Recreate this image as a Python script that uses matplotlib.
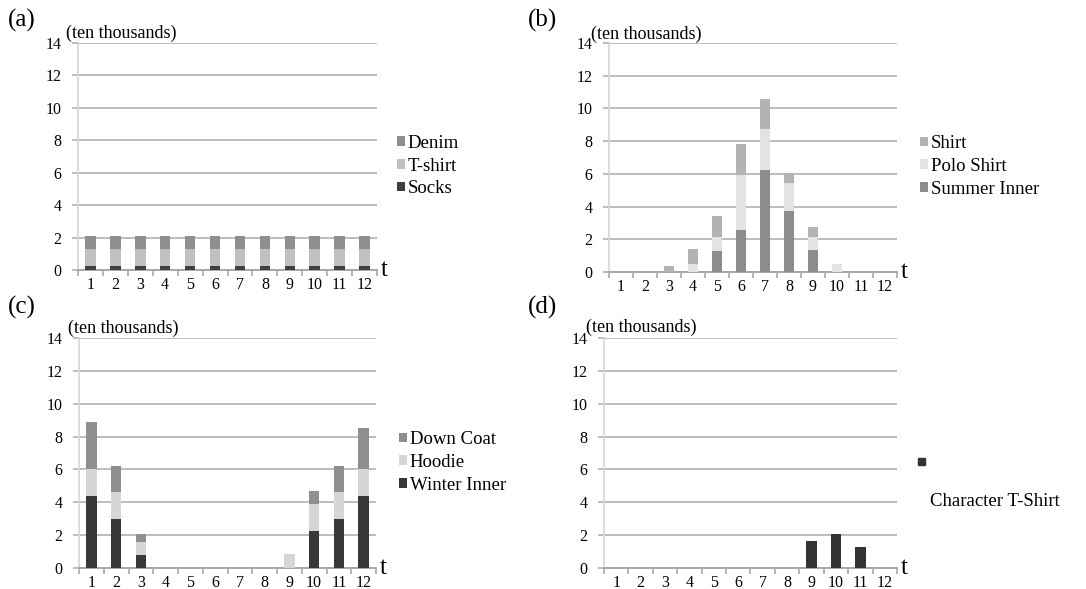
import matplotlib.pyplot as plt
from matplotlib.patches import Patch
import numpy as np

plt.rcParams['font.family'] = ['Liberation Serif', 'DejaVu Serif']

# months
t = np.arange(1, 13)
t_labels = [str(i) for i in t]

# (a) all-season items
socks = [0.25] * 12
tshirt = [1.03] * 12
denim = [0.8] * 12

# (b) summer items
summer_inner = [0, 0, 0, 0, 1.3, 2.55, 6.25, 3.75, 1.35, 0, 0, 0]
polo_shirt = [0, 0, 0, 0.5, 0.85, 3.35, 2.5, 1.7, 0.8, 0.5, 0, 0]
shirt = [0, 0, 0.35, 0.9, 1.25, 1.9, 1.85, 0.6, 0.6, 0, 0, 0]

# (c) winter items
winter_inner = [4.4, 3.0, 0.8, 0, 0, 0, 0, 0, 0, 2.25, 3.0, 4.4]
hoodie = [1.6, 1.6, 0.8, 0, 0, 0, 0, 0, 0.87, 1.65, 1.6, 1.65]
down_coat = [2.9, 1.6, 0.45, 0, 0, 0, 0, 0, 0, 0.8, 1.6, 2.45]

# (d) character t-shirt
char_tshirt = [0, 0, 0, 0, 0, 0, 0, 0, 1.65, 2.1, 1.28, 0]

W, H = 1086, 589
fig = plt.figure(figsize=(W / 100, H / 100), dpi=100)


def make_axes(left, right, y0, y14):
    ax = fig.add_axes([left / W, 1 - y0 / H, (right - left) / W, (y0 - y14) / H])
    ax.set_xlim(0.5, 12.5)
    ax.set_ylim(0, 14)
    ax.set_yticks(range(0, 15, 2))
    ax.yaxis.grid(True, color='#bdbdbd', linewidth=1.4)
    ax.set_axisbelow(True)
    for s in ['top', 'right']:
        ax.spines[s].set_visible(False)
    ax.spines['left'].set_color('#d6d6d6')
    ax.spines['left'].set_linewidth(1.2)
    ax.spines['bottom'].set_color('#a8a8a8')
    ax.spines['bottom'].set_linewidth(1.4)
    ax.tick_params(axis='y', length=4, color='#bdbdbd', width=1.4, labelsize=11.5, pad=8)
    ax.set_xticks(t)
    ax.set_xticklabels(t_labels)
    ax.set_xticks(np.arange(0.5, 13, 1), minor=True)
    ax.tick_params(axis='x', which='major', length=0, labelsize=11.5, pad=5)
    ax.tick_params(axis='x', which='minor', length=4, color='#a8a8a8', width=1.2)
    ax.text(1.012, 0.0, 't', transform=ax.transAxes, fontsize=18, va='center', ha='left')
    return ax


def stack(ax, series, colors, bw=0.42):
    bottom = np.zeros(12)
    for vals, c in zip(series, colors):
        ax.bar(t, vals, bw, bottom=bottom, color=c, zorder=3)
        bottom += np.array(vals)


def legend(ax, labels, colors, x, y):
    handles = [Patch(facecolor=c) for c in colors]
    ax.legend(handles, labels, loc='center left', bbox_to_anchor=(x, y),
              frameon=False, handlelength=0.42, handleheight=0.42,
              handletextpad=0.15, labelspacing=0.3, fontsize=13.5,
              borderaxespad=0, borderpad=0)


# (a)
ax = make_axes(78, 377, 270, 43)
stack(ax, [socks, tshirt, denim], ['#3f3f3f', '#c0c0c0', '#8f8f8f'])
legend(ax, ['Denim', 'T-shirt', 'Socks'], ['#8f8f8f', '#c0c0c0', '#3f3f3f'], 1.067, 0.458)
fig.text(8 / W, 1 - 20 / H, '(a)', fontsize=18, va='center')
fig.text(66 / W, 1 - 33 / H, '(ten thousands)', fontsize=13, va='center')

# (b)
ax = make_axes(609, 897, 272, 43)
stack(ax, [summer_inner, polo_shirt, shirt], ['#8c8c8c', '#e3e3e3', '#b3b3b3'])
legend(ax, ['Shirt', 'Polo Shirt', 'Summer Inner'], ['#b3b3b3', '#e3e3e3', '#8c8c8c'], 1.08, 0.461)
fig.text(528 / W, 1 - 20 / H, '(b)', fontsize=18, va='center')
fig.text(591 / W, 1 - 34 / H, '(ten thousands)', fontsize=13, va='center')

# (c)
ax = make_axes(79, 376, 568, 338)
stack(ax, [winter_inner, hoodie, down_coat], ['#383838', '#d6d6d6', '#8f8f8f'])
legend(ax, ['Down Coat', 'Hoodie', 'Winter Inner'], ['#8f8f8f', '#d6d6d6', '#383838'], 1.077, 0.459)
fig.text(8 / W, 1 - 307 / H, '(c)', fontsize=18, va='center')
fig.text(68 / W, 1 - 328 / H, '(ten thousands)', fontsize=13, va='center')

# (d)
ax = make_axes(604, 897, 568, 338)
stack(ax, [char_tshirt], ['#333333'])
fig.text(528 / W, 1 - 307 / H, '(d)', fontsize=18, va='center')
fig.text(586 / W, 1 - 327 / H, '(ten thousands)', fontsize=13, va='center')
fig.patches.append(plt.Rectangle((918 / W, 1 - 465 / H), 7 / W, 7 / H,
                                 transform=fig.transFigure, color='#333333'))
fig.text(930 / W, 1 - 502 / H, 'Character T-Shirt', fontsize=13.5, va='center')

fig.savefig('out.png', dpi=100)
